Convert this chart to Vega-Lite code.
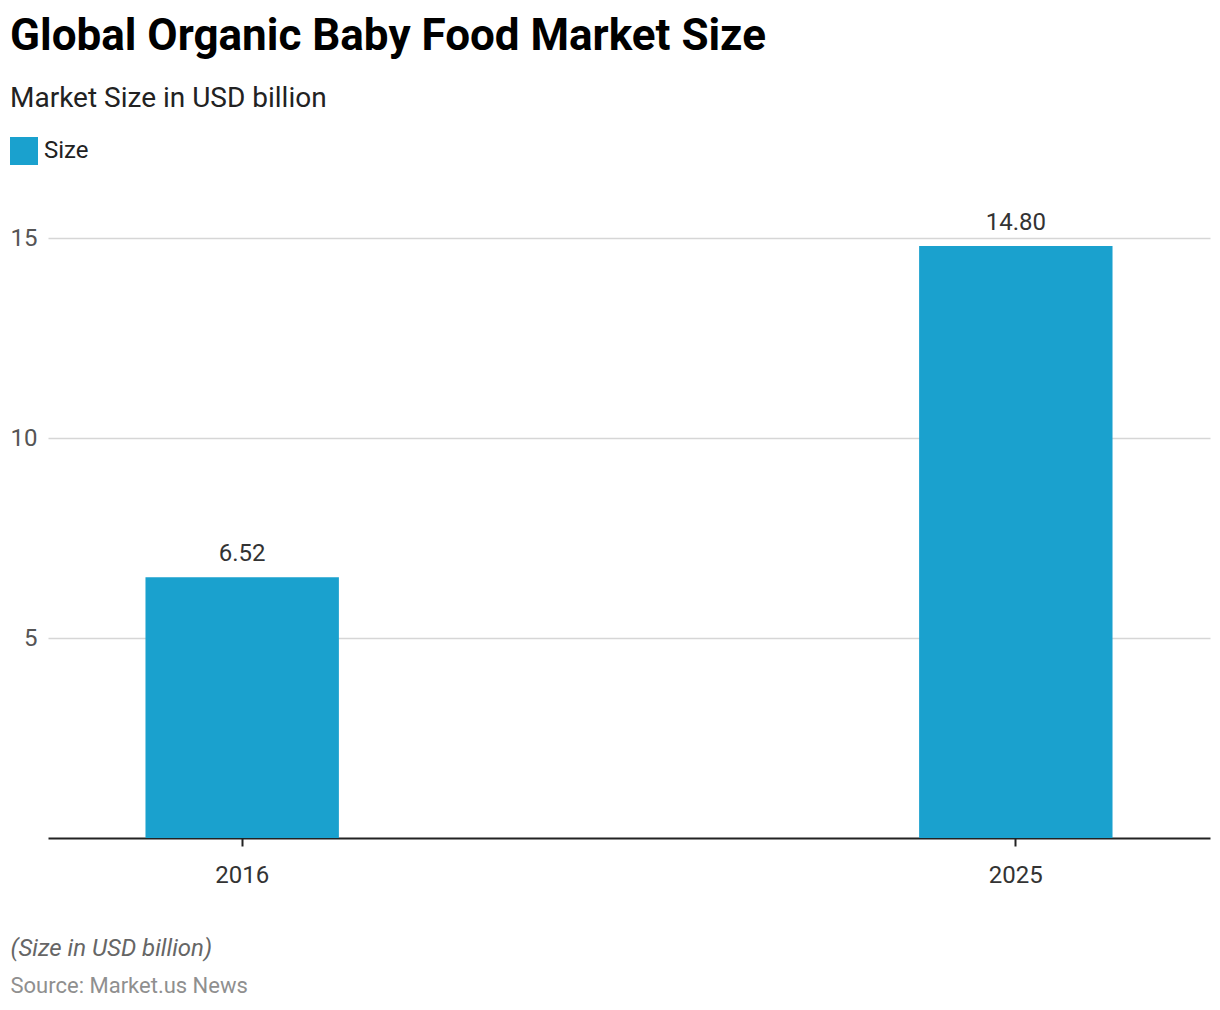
{
  "$schema": "https://vega.github.io/schema/vega-lite/v6.json",
  "width": 1162,
  "height": 640,
  "autosize": {"type": "none"},
  "padding": {"left": 48, "top": 198, "right": 10, "bottom": 172},
  "background": "white",
  "config": {
    "font": "Roboto",
    "view": {"stroke": null}
  },
  "title": {
    "text": "Global Organic Baby Food Market Size",
    "subtitle": "Market Size in USD billion",
    "anchor": "start",
    "frame": "group",
    "dx": -38,
    "offset": 24,
    "font": "Roboto",
    "fontSize": 44,
    "fontWeight": "bold",
    "color": "#000000",
    "subtitleFont": "Roboto",
    "subtitleFontSize": 28,
    "subtitleColor": "#222222",
    "subtitlePadding": 26
  },
  "data": {
    "values": [
      {"year": "2016", "size": 6.52, "series": "Size", "label": "6.52"},
      {"year": "2025", "size": 14.8, "series": "Size", "label": "14.80"}
    ]
  },
  "encoding": {
    "x": {
      "field": "year",
      "type": "nominal",
      "sort": null,
      "scale": {"paddingInner": 0.75, "paddingOuter": 0.126},
      "axis": {
        "title": "(Size in USD billion)",
        "titleFont": "Roboto",
        "titleFontSize": 24,
        "titleFontStyle": "italic",
        "titleFontWeight": "normal",
        "titleColor": "#666666",
        "titleAnchor": "start",
        "titleAlign": "left",
        "titleBaseline": "alphabetic",
        "titleX": -38,
        "titleY": 117,
        "labelAngle": 0,
        "labelFontSize": 24,
        "labelColor": "#333333",
        "labelPadding": 17,
        "domainColor": "#222222",
        "domainWidth": 2,
        "tickColor": "#222222",
        "tickWidth": 2,
        "tickSize": 8,
        "grid": false
      }
    },
    "y": {
      "field": "size",
      "type": "quantitative",
      "scale": {"domain": [0, 16], "nice": false},
      "axis": {
        "values": [5, 10, 15],
        "title": "Source: Market.us News",
        "titleFont": "Roboto",
        "titleFontSize": 22,
        "titleFontWeight": "normal",
        "titleColor": "#8f8f8f",
        "titleAngle": 0,
        "titleAlign": "left",
        "titleBaseline": "alphabetic",
        "titleX": -38,
        "titleY": 794,
        "labelFontSize": 24,
        "labelColor": "#555555",
        "labelPadding": 11,
        "domain": false,
        "ticks": false,
        "gridColor": "#d6d6d6",
        "gridWidth": 1.5
      }
    }
  },
  "layer": [
    {
      "mark": {"type": "bar"},
      "encoding": {
        "color": {
          "field": "series",
          "type": "nominal",
          "scale": {"range": ["#1aa1ce"]},
          "legend": {
            "title": null,
            "orient": "none",
            "legendX": -38,
            "legendY": -61,
            "symbolType": "square",
            "symbolSize": 784,
            "symbolStrokeWidth": 0,
            "labelFontSize": 24,
            "labelColor": "#222222",
            "labelOffset": 6
          }
        }
      }
    },
    {
      "mark": {"type": "text", "baseline": "alphabetic", "dy": -16, "fontSize": 24, "color": "#333333"},
      "encoding": {
        "text": {"field": "label"}
      }
    }
  ]
}
